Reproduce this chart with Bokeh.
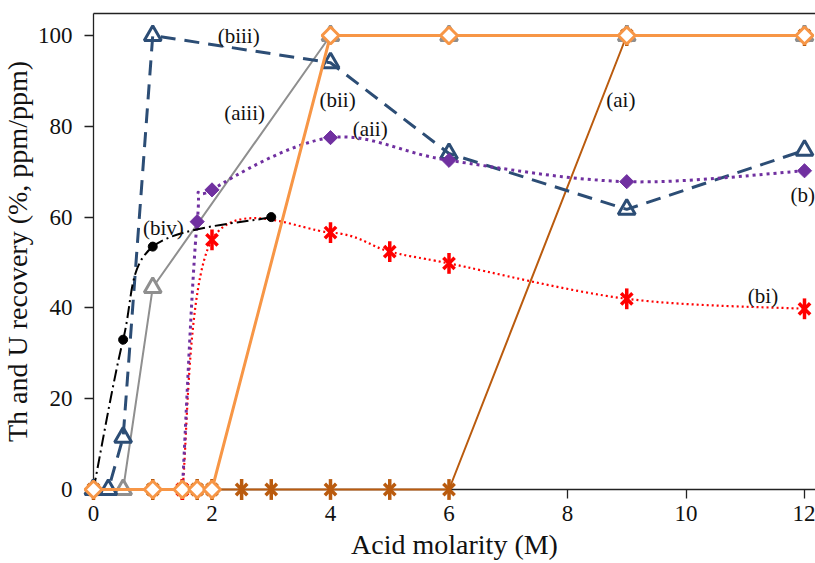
import numpy as np
from bokeh.plotting import figure
from bokeh.models import LinearAxis, FixedTicker, Range1d, ColumnDataSource
from bokeh.core.properties import value
from bokeh.embed import file_html
from bokeh.resources import INLINE

# ---------------- data ----------------
ai_x = [0, 1, 1.5, 1.75, 2, 2.5, 3, 4, 5, 6, 9, 12]
ai_y = [0, 0, 0, 0, 0, 0, 0, 0, 0, 0, 100, 100]

aii_x = [1.5, 1.75, 2, 4, 6, 9, 12]
aii_y = [0, 59, 66, 77.5, 72.5, 67.8, 70.2]

aiii_x = [0, 0.5, 1, 4, 6, 9, 12]
aiii_y = [0, 0, 44.5, 100, 100, 100, 100]

bi_x = [1.5, 2, 4, 5, 6, 9, 12]
bi_y = [0, 55, 56.6, 52.4, 49.8, 42, 39.8]

bii_x = [0, 1, 1.5, 1.75, 2, 4, 6, 9, 12]
bii_y = [0, 0, 0, 0, 0, 100, 100, 100, 100]

biii_x = [0, 0.25, 0.5, 1, 4, 6, 9, 12]
biii_y = [0, 0, 11.5, 100, 94, 74, 61.7, 74.7]

biv_x = [0, 0.5, 1, 3]
biv_y = [0, 33, 53.5, 60]

x_ticks = [0, 2, 4, 6, 8, 10, 12]
y_ticks = [0, 20, 40, 60, 80, 100]

label_text = ["(biii)", "(aiii)", "(bii)", "(aii)", "(ai)", "(b)", "(biv)", "(bi)"]
label_x = [2.45, 2.55, 4.12, 4.67, 8.9, 11.97, 1.18, 11.3]
label_y = [100, 83, 85.7, 79.5, 85.7, 64.8, 57.7, 42.7]

# ---------------- layout ----------------
W, H = 815, 563
ppx = 711 / 12.0          # pixels per unit of acid molarity
ppy = 454 / 100.0         # pixels per % recovery
x_start = -93 / ppx
x_end = x_start + W / ppx
y_end = 100 + 35 / ppy
y_start = y_end - H / ppy
y_top = 100 + 22 / ppy    # top border of the plot box

FONT = "Liberation Serif"
AXFONT = "'Liberation Serif', 'Times New Roman', serif"

p = figure(width=W, height=H, output_backend="svg", toolbar_location=None,
           x_range=Range1d(x_start, x_end), y_range=Range1d(y_start, y_end),
           x_axis_location=None, y_axis_location=None,
           min_border_left=0, min_border_right=0, min_border_top=0, min_border_bottom=0)
p.outline_line_color = None
p.grid.visible = False
p.background_fill_color = "white"
p.border_fill_color = "white"


def style_axis(ax):
    ax.level = "underlay"
    ax.axis_line_color = "#222222"
    ax.axis_line_width = 1.3
    ax.major_tick_line_color = "#222222"
    ax.major_tick_line_width = 1.3
    ax.major_tick_in = 0
    ax.major_tick_out = 9
    ax.minor_tick_line_color = None
    ax.major_label_text_font = AXFONT
    ax.major_label_text_font_size = "23px"
    ax.major_label_text_color = "#111111"
    ax.axis_label_text_font = AXFONT
    ax.axis_label_text_font_size = "28px"
    ax.axis_label_text_font_style = "normal"
    ax.axis_label_text_color = "#111111"


xaxis = LinearAxis(fixed_location=0, bounds=(0, x_end), ticker=FixedTicker(ticks=x_ticks),
                   axis_label="Acid molarity (M)")
style_axis(xaxis)
xaxis.major_label_standoff = 7
xaxis.axis_label_standoff = 5
p.add_layout(xaxis, "below")

yaxis = LinearAxis(fixed_location=0, bounds=(0, y_top), ticker=FixedTicker(ticks=y_ticks),
                   axis_label="Th and U recovery (%, ppm/ppm)")
style_axis(yaxis)
yaxis.major_label_standoff = 12
yaxis.axis_label_standoff = 2
p.add_layout(yaxis, "left")

top = LinearAxis(fixed_location=y_top, bounds=(0, x_end), ticker=FixedTicker(ticks=[]))
style_axis(top)
top.major_tick_line_color = None
top.major_label_text_font_size = "0px"
p.add_layout(top, "above")


def smooth_segments(xs, ys):
    """Bezier control points for a smoothed (Excel-like) line through the data."""
    n = len(xs)
    d = dict(x0=[], y0=[], x1=[], y1=[], cx0=[], cy0=[], cx1=[], cy1=[])
    for i in range(n - 1):
        i0 = max(i - 1, 0)
        i3 = min(i + 2, n - 1)
        d["x0"].append(xs[i]); d["y0"].append(ys[i])
        d["x1"].append(xs[i + 1]); d["y1"].append(ys[i + 1])
        d["cx0"].append(xs[i] + (xs[i + 1] - xs[i0]) / 6.0)
        d["cy0"].append(ys[i] + (ys[i + 1] - ys[i0]) / 6.0)
        d["cx1"].append(xs[i + 1] - (xs[i3] - xs[i]) / 6.0)
        d["cy1"].append(ys[i + 1] - (ys[i3] - ys[i]) / 6.0)
    return ColumnDataSource(d)


def star(xs, ys, color, size, lw):
    p.scatter(xs, ys, marker="x", size=size, line_color=color, line_width=lw)
    p.scatter(xs, ys, marker="dash", angle=np.pi / 2, size=size * 1.3,
              line_color=color, line_width=lw)


BROWN = "#BA5B0E"
ORANGE = "#F79646"
GRAY = "#8F8F8F"
NAVY = "#2C4D75"
PURPLE = "#7030A0"
RED = "#FF0000"

# (ai) brown
p.line(ai_x, ai_y, line_color=BROWN, line_width=2)
star(ai_x, ai_y, BROWN, 16, 3.5)

# (aiii) gray
p.line(aiii_x, aiii_y, line_color=GRAY, line_width=2)
p.scatter(aiii_x, aiii_y, marker="triangle", size=17, line_color=GRAY, line_width=3,
          fill_color="white")

# (biii) navy dashed
p.line(biii_x, biii_y, line_color=NAVY, line_width=3, line_dash="15 9")
p.scatter(biii_x, biii_y, marker="triangle", size=17, line_color=NAVY, line_width=3,
          fill_color=None)

# (bi) red dotted smoothed
p.bezier(x0="x0", y0="y0", x1="x1", y1="y1", cx0="cx0", cy0="cy0", cx1="cx1", cy1="cy1",
         source=smooth_segments(bi_x, bi_y), line_color=RED, line_width=2.2, line_dash="2 3")
star(bi_x, bi_y, RED, 16, 3.5)

# (aii) purple dotted smoothed
p.bezier(x0="x0", y0="y0", x1="x1", y1="y1", cx0="cx0", cy0="cy0", cx1="cx1", cy1="cy1",
         source=smooth_segments(aii_x, aii_y), line_color=PURPLE, line_width=3, line_dash="3 4")
p.scatter(aii_x, aii_y, marker="square", angle=np.pi / 4, size=10, line_color=PURPLE,
          fill_color=PURPLE, line_width=1)

# (biv) black dash-dot smoothed
p.bezier(x0="x0", y0="y0", x1="x1", y1="y1", cx0="cx0", cy0="cy0", cx1="cx1", cy1="cy1",
         source=smooth_segments(biv_x, biv_y), line_color="black", line_width=2,
         line_dash="12 4 2 4")
p.scatter(biv_x, biv_y, marker="circle", size=9, line_color="black", fill_color="black")

# (bii) orange
p.line(bii_x, bii_y, line_color=ORANGE, line_width=3)
p.scatter(bii_x, bii_y, marker="square", angle=np.pi / 4, size=12, line_color=ORANGE,
          fill_color="white", line_width=3)

# labels
p.text(x=label_x, y=label_y, text=label_text, text_font=value(FONT), text_font_size="21px",
       text_align="center", text_baseline="middle", text_color="#111111")

open("out.html", "w").write(file_html(p, INLINE))
